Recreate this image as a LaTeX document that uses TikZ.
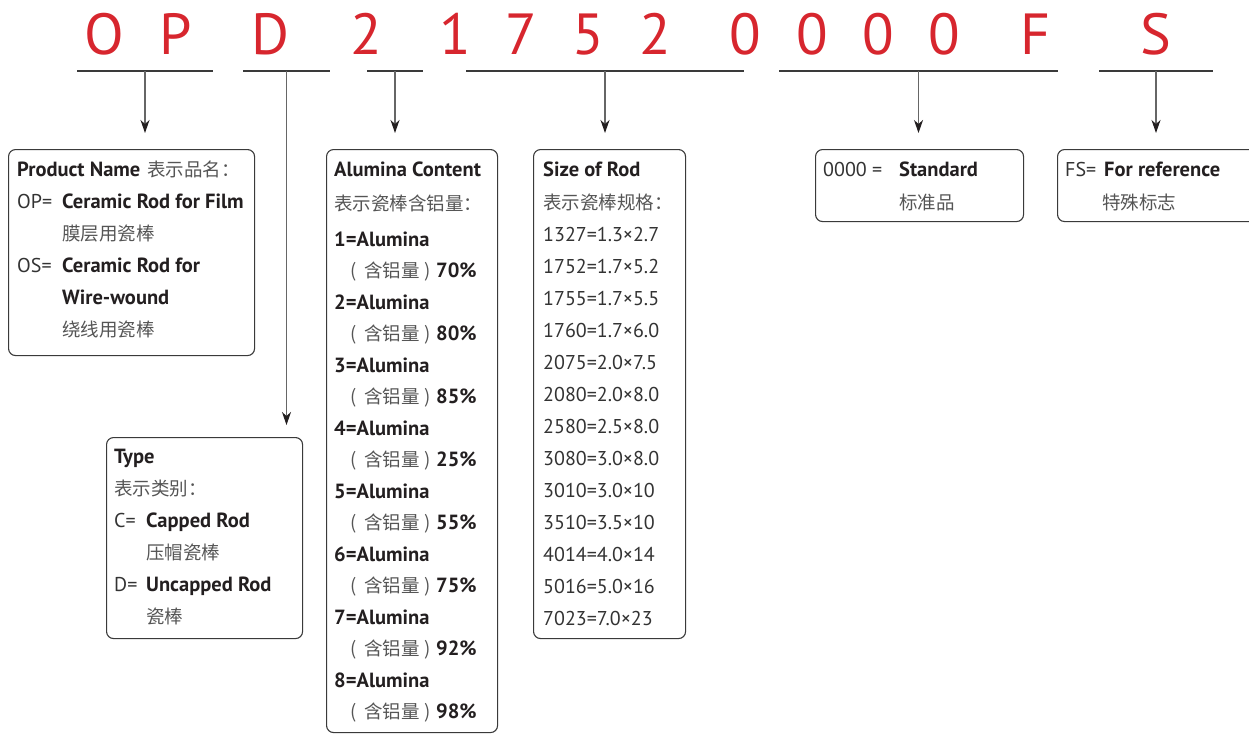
\documentclass[tikz,border=0pt]{standalone}
\usepackage{fontspec}
\setmainfont{PT Sans}
\newfontfamily\cjk{Noto Sans CJK SC}
\usetikzlibrary{arrows.meta,calc}
\definecolor{codered}{HTML}{D7262E}
\definecolor{frame}{HTML}{3A3A3A}
\definecolor{cjkgray}{HTML}{555555}
\definecolor{txt}{HTML}{231F20}
\definecolor{reg}{HTML}{333333}
\definecolor{connc}{HTML}{666666}
\newcommand\myzh[1]{{\cjk\fontsize{18.5}{22}\selectfont\color{cjkgray}#1}}
\newcommand\mybf[1]{{\bfseries\color{txt}#1}}
\begin{document}
\begin{tikzpicture}[x=1pt,y=-1pt,
  code/.style={text=codered, font=\fontsize{58}{58}\selectfont, anchor=base, inner sep=0},
  uline/.style={draw=frame, line width=1.3pt},
  conn/.style={draw=connc, line width=1.1pt, -{Stealth[length=13pt,width=9pt,inset=4pt,color=txt]}},
  box/.style={draw=frame, line width=1.1pt, rounded corners=7pt, anchor=north west, inner sep=0},
  t/.style={anchor=base west, inner sep=0, font=\fontsize{20}{24}\selectfont, text=reg},
  b/.style={t, font=\fontsize{20.5}{24}\selectfont\bfseries, text=txt},
  c/.style={t, font=\fontsize{18.5}{22}\selectfont\cjk, text=cjkgray},
]
\useasboundingbox (0,0) rectangle (1249,734);

% code letters
\node[code] (cO) at (104,54) {O};
\node[code] (cP) at (176,54) {P};
\node[code] (cD) at (270,54) {D};
\node[code] (c2) at (366,54) {2};
\node[code] (c1) at (455,54) {1};
\node[code] (c7) at (521,54) {7};
\node[code] (c5) at (588,54) {5};
\node[code] (c2b) at (655,54) {2};
\node[code] (c0a) at (745,54) {0};
\node[code] (c0b) at (812,54) {0};
\node[code] (c0c) at (878,54) {0};
\node[code] (c0d) at (944,54) {0};
\node[code] (cF) at (1035,54) {F};
\node[code] (cS) at (1156,54) {S};

% underlines
\coordinate (u1a) at (77,71);   \coordinate (u1b) at (213,71);
\coordinate (u2a) at (243,71);  \coordinate (u2b) at (330,71);
\coordinate (u3a) at (367,71);  \coordinate (u3b) at (423,71);
\coordinate (u4a) at (466,71);  \coordinate (u4b) at (744,71);
\coordinate (u5a) at (779,71);  \coordinate (u5b) at (1058,71);
\coordinate (u6a) at (1099,71); \coordinate (u6b) at (1213,71);
\foreach \k in {1,...,6} {
  \draw[uline] (u\k a) -- (u\k b);
  \coordinate (m\k) at ($(u\k a)!0.5!(u\k b)$);
}

% boxes
\node[box, minimum width=246pt, minimum height=206pt] (pn) at (8,149) {};
\node[box, minimum width=196pt, minimum height=201pt] (ty) at (106,437) {};
\node[box, minimum width=171pt, minimum height=583pt] (al) at (326,149) {};
\node[box, minimum width=152pt, minimum height=489pt] (sz) at (533,149) {};
\node[box, minimum width=208pt, minimum height=72pt] (st) at (815,149) {};
\node[box, minimum width=212pt, minimum height=72pt] (fs) at (1057,149) {};

% connectors
\draw[conn, shorten >=16pt] (m1) -- (m1 |- pn.north);
\draw[conn, shorten >=12pt] (m2) -- (m2 |- ty.north);
\draw[conn, shorten >=16pt] (m3) -- (m3 |- al.north);
\draw[conn, shorten >=16pt] (m4) -- (m4 |- sz.north);
\draw[conn, shorten >=16pt] (m5) -- (m5 |- st.north);
\draw[conn, shorten >=16pt] (m6) -- (m6 |- fs.north);

% Product Name box
\node[t] (pn1) at (17,176) {\mybf{\fontsize{20.5}{24}\selectfont Product Name}\hspace{7pt}\myzh{表示品名：}};
\node[t] (pn2) at (17,208) {OP=};
\node[b] (pn2b) at (62,208) {Ceramic Rod for Film};
\node[c] (pn3) at (62,240) {膜层用瓷棒};
\node[t] (pn4) at (17,272) {OS=};
\node[b] (pn4b) at (62,272) {Ceramic Rod for};
\node[b] (pn5) at (62,304) {Wire-wound};
\node[c] (pn6) at (62,336) {绕线用瓷棒};

% Type box
\node[b] (ty1) at (114,463) {Type};
\node[c] (ty2) at (114,495) {表示类别：};
\node[t] (ty3) at (114,527) {C=};
\node[b] (ty3b) at (146,527) {Capped Rod};
\node[c] (ty4) at (146,559) {压帽瓷棒};
\node[t] (ty5) at (114,591) {D=};
\node[b] (ty5b) at (146,591) {Uncapped Rod};
\node[c] (ty6) at (146,623) {瓷棒};

% Alumina box
\node[b] (al1) at (334,176) {Alumina Content};
\node[c] (al2) at (334,210) {表示瓷棒含铝量：};
\foreach \p [count=\i] in {70,80,85,25,55,75,92,98} {
  \node[b] (ala\i) at (334,{246+63.1*(\i-1)}) {\i=Alumina};
  \node[t] (alp\i) at (350,{277+63.1*(\i-1)}) {\myzh{(\hspace{8pt}含铝量\hspace{5pt})}\hspace{5pt}\mybf{\fontsize{20.5}{24}\selectfont\p\%}};
}

% Size box
\node[b] (sz1) at (543,176) {Size of Rod};
\node[c] (sz2) at (543,209) {表示瓷棒规格：};
\foreach \s [count=\i] in {1327=1.3×2.7,1752=1.7×5.2,1755=1.7×5.5,1760=1.7×6.0,2075=2.0×7.5,2080=2.0×8.0,2580=2.5×8.0,3080=3.0×8.0,3010=3.0×10,3510=3.5×10,4014=4.0×14,5016=5.0×16,7023=7.0×23} {
  \node[t] (szv\i) at (543,{241+32*(\i-1)}) {\s};
}

% Standard box
\node[t] (st1) at (823,176) {0000 =};
\node[b] (st1b) at (899,176) {Standard};
\node[c] (st2) at (899,209) {标准品};

% FS box
\node[t] (fs1) at (1065,176) {FS=};
\node[b] (fs1b) at (1104,176) {For reference};
\node[c] (fs2) at (1102,209) {特殊标志};
\end{tikzpicture}
\end{document}
